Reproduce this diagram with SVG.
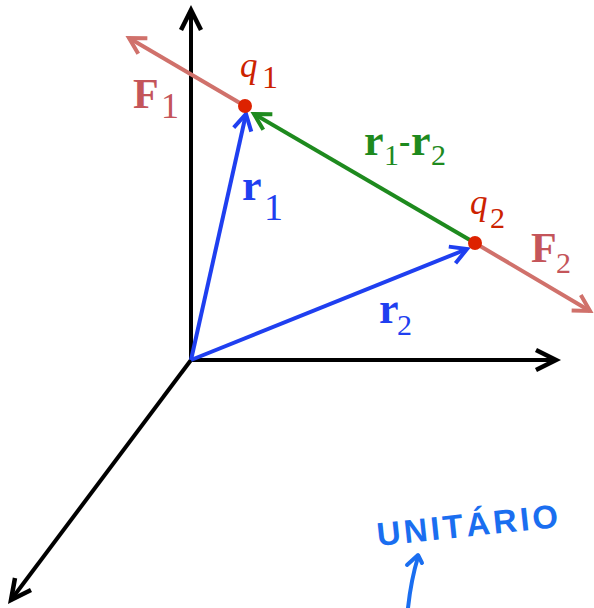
<svg xmlns="http://www.w3.org/2000/svg" width="594" height="608" viewBox="0 0 594 608">
<style>
.ax{stroke:#000;stroke-width:4;fill:none}
.blue{stroke:#1f3ff0;stroke-width:4;fill:none}
.green{stroke:#1e8a1e;stroke-width:4;fill:none}
.force{stroke:#d0716b;stroke-width:4;fill:none}
.serif{font-family:"Liberation Serif","Times New Roman",serif}
.b{font-weight:bold}
.hand{stroke:#1a6ef0;stroke-width:4;fill:none;stroke-linecap:round;stroke-linejoin:round}
</style>
<defs>
<marker id="mBlack" markerUnits="userSpaceOnUse" viewBox="-24 -14 28 28" refX="0" refY="0" markerWidth="28" markerHeight="28" orient="auto" overflow="visible"><path d="M-20,-10 L0,0 L-20,10" fill="none" stroke="#000" stroke-width="4.5"/></marker>
<marker id="mBlue" markerUnits="userSpaceOnUse" viewBox="-20 -12 24 24" refX="0" refY="0" markerWidth="24" markerHeight="24" orient="auto" overflow="visible"><path d="M-16,-9 L0,0 L-16,9" fill="none" stroke="#1f3ff0" stroke-width="4"/></marker>
<marker id="mGreen" markerUnits="userSpaceOnUse" viewBox="-20 -12 24 24" refX="0" refY="0" markerWidth="24" markerHeight="24" orient="auto" overflow="visible"><path d="M-16,-9 L0,0 L-16,9" fill="none" stroke="#1e8a1e" stroke-width="4"/></marker>
<marker id="mForce" markerUnits="userSpaceOnUse" viewBox="-20 -12 24 24" refX="0" refY="0" markerWidth="24" markerHeight="24" orient="auto" overflow="visible"><path d="M-16,-9 L0,0 L-16,9" fill="none" stroke="#d0716b" stroke-width="4"/></marker>
</defs>
<g id="connectors">
<line class="ax" x1="191" y1="360" x2="191" y2="10" marker-end="url(#mBlack)"/>
<line class="ax" x1="189" y1="360" x2="556" y2="360" marker-end="url(#mBlack)"/>
<line class="ax" x1="191" y1="360" x2="11" y2="600" marker-end="url(#mBlack)"/>
<line class="force" x1="245" y1="106" x2="129" y2="38" marker-end="url(#mForce)"/>
<line class="force" x1="475" y1="243" x2="590" y2="311" marker-end="url(#mForce)"/>
<line class="green" x1="475" y1="243" x2="254" y2="114" marker-end="url(#mGreen)"/>
<line class="blue" x1="191" y1="360" x2="246" y2="114" marker-end="url(#mBlue)"/>
<line class="blue" x1="191" y1="360" x2="467" y2="249" marker-end="url(#mBlue)"/>
</g>
<g id="q1">
<circle cx="245" cy="106" r="7" fill="#dd2200"/>
<text class="serif" x="240" y="77" font-size="35" font-style="italic" fill="#cc2200">q</text>
<text class="serif" x="262" y="88" font-size="32" fill="#cc2200">1</text>
</g>
<g id="q2">
<circle cx="475" cy="243" r="7" fill="#dd2200"/>
<text class="serif" x="470" y="214" font-size="35" font-style="italic" fill="#cc2200">q</text>
<text class="serif" x="490" y="228" font-size="30" fill="#cc2200">2</text>
</g>
<g id="F1">
<text class="serif b" x="133" y="108" font-size="42" fill="#c4555a">F</text>
<text class="serif" x="161" y="118" font-size="36" fill="#c4555a">1</text>
</g>
<g id="F2">
<text class="serif b" x="531" y="262" font-size="42" fill="#c4555a">F</text>
<text class="serif" x="556" y="273" font-size="30" fill="#c4555a">2</text>
</g>
<g id="r1">
<text class="serif b" x="242" y="200" font-size="44" fill="#1f3ff0">r</text>
<text class="serif" x="264" y="220" font-size="38" fill="#1f3ff0">1</text>
</g>
<g id="r2">
<text class="serif b" x="379" y="323" font-size="44" fill="#1f3ff0">r</text>
<text class="serif" x="397" y="335" font-size="30" fill="#1f3ff0">2</text>
</g>
<g id="r1-r2">
<text class="serif b" x="364" y="155" font-size="44" fill="#1e8a1e">r</text>
<text class="serif" x="384" y="165" font-size="30" fill="#1e8a1e">1</text>
<text class="serif b" x="399" y="153" font-size="34" fill="#1e8a1e">-</text>
<text class="serif b" x="411" y="155" font-size="44" fill="#1e8a1e">r</text>
<text class="serif" x="431" y="165" font-size="30" fill="#1e8a1e">2</text>
</g>
<g id="unitario">
<text x="378" y="546" font-family="Liberation Sans, Arial, sans-serif" font-size="33" font-weight="bold" fill="#1a6ef0" textLength="182" lengthAdjust="spacing" transform="rotate(-6 378 546)">UNITÁRIO</text>
<path class="hand" d="M408,608 Q411,580 418,557"/>
<path class="hand" d="M407,565 L418,555 L422,563"/>
</g>
</svg>
